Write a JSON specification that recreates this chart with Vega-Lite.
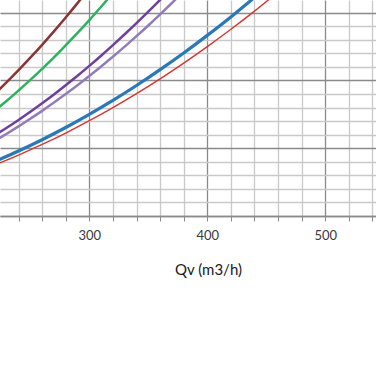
{
  "$schema": "https://vega.github.io/schema/vega-lite/v6.json",
  "width": 376,
  "height": 216,
  "autosize": {"type": "none"},
  "padding": {"left": 0, "top": 0, "right": 0, "bottom": 157},
  "background": "white",
  "config": {"view": {"stroke": null}, "font": "Lato"},
  "data": {"values": [
    {"curve": "A", "Qv": 220, "dp": 90.4}, {"curve": "A", "Qv": 230, "dp": 98.8}, {"curve": "A", "Qv": 240, "dp": 107.6}, {"curve": "A", "Qv": 250, "dp": 116.8}, {"curve": "A", "Qv": 260, "dp": 126.3}, {"curve": "A", "Qv": 270, "dp": 136.2}, {"curve": "A", "Qv": 280, "dp": 146.5}, {"curve": "A", "Qv": 290, "dp": 157.1}, {"curve": "A", "Qv": 300, "dp": 168.1},
    {"curve": "B", "Qv": 220, "dp": 77.8}, {"curve": "B", "Qv": 230, "dp": 85.0}, {"curve": "B", "Qv": 240, "dp": 92.6}, {"curve": "B", "Qv": 250, "dp": 100.4}, {"curve": "B", "Qv": 260, "dp": 108.6}, {"curve": "B", "Qv": 270, "dp": 117.1}, {"curve": "B", "Qv": 280, "dp": 126.0}, {"curve": "B", "Qv": 290, "dp": 135.1}, {"curve": "B", "Qv": 300, "dp": 144.6}, {"curve": "B", "Qv": 310, "dp": 154.4}, {"curve": "B", "Qv": 320, "dp": 164.6},
    {"curve": "C", "Qv": 220, "dp": 59.6}, {"curve": "C", "Qv": 230, "dp": 65.1}, {"curve": "C", "Qv": 240, "dp": 70.9}, {"curve": "C", "Qv": 250, "dp": 76.9}, {"curve": "C", "Qv": 260, "dp": 83.2}, {"curve": "C", "Qv": 270, "dp": 89.7}, {"curve": "C", "Qv": 280, "dp": 96.5}, {"curve": "C", "Qv": 290, "dp": 103.5}, {"curve": "C", "Qv": 300, "dp": 110.8}, {"curve": "C", "Qv": 310, "dp": 118.3}, {"curve": "C", "Qv": 320, "dp": 126.1}, {"curve": "C", "Qv": 330, "dp": 134.1}, {"curve": "C", "Qv": 340, "dp": 142.3}, {"curve": "C", "Qv": 350, "dp": 150.8}, {"curve": "C", "Qv": 360, "dp": 159.5}, {"curve": "C", "Qv": 370, "dp": 168.5},
    {"curve": "D", "Qv": 220, "dp": 55.6}, {"curve": "D", "Qv": 230, "dp": 60.7}, {"curve": "D", "Qv": 240, "dp": 66.1}, {"curve": "D", "Qv": 250, "dp": 71.8}, {"curve": "D", "Qv": 260, "dp": 77.6}, {"curve": "D", "Qv": 270, "dp": 83.7}, {"curve": "D", "Qv": 280, "dp": 90.0}, {"curve": "D", "Qv": 290, "dp": 96.5}, {"curve": "D", "Qv": 300, "dp": 103.3}, {"curve": "D", "Qv": 310, "dp": 110.3}, {"curve": "D", "Qv": 320, "dp": 117.6}, {"curve": "D", "Qv": 330, "dp": 125.0}, {"curve": "D", "Qv": 340, "dp": 132.7}, {"curve": "D", "Qv": 350, "dp": 140.6}, {"curve": "D", "Qv": 360, "dp": 148.8}, {"curve": "D", "Qv": 370, "dp": 157.2}, {"curve": "D", "Qv": 380, "dp": 165.8},
    {"curve": "E", "Qv": 220, "dp": 40.3}, {"curve": "E", "Qv": 240, "dp": 48.0}, {"curve": "E", "Qv": 260, "dp": 56.3}, {"curve": "E", "Qv": 280, "dp": 65.3}, {"curve": "E", "Qv": 300, "dp": 75.0}, {"curve": "E", "Qv": 320, "dp": 85.3}, {"curve": "E", "Qv": 340, "dp": 96.3}, {"curve": "E", "Qv": 360, "dp": 108.0}, {"curve": "E", "Qv": 380, "dp": 120.3}, {"curve": "E", "Qv": 400, "dp": 133.3}, {"curve": "E", "Qv": 420, "dp": 146.9}, {"curve": "E", "Qv": 440, "dp": 161.3},
    {"curve": "F", "Qv": 220, "dp": 37.8}, {"curve": "F", "Qv": 240, "dp": 45.0}, {"curve": "F", "Qv": 260, "dp": 52.8}, {"curve": "F", "Qv": 280, "dp": 61.2}, {"curve": "F", "Qv": 300, "dp": 70.3}, {"curve": "F", "Qv": 320, "dp": 80.0}, {"curve": "F", "Qv": 340, "dp": 90.3}, {"curve": "F", "Qv": 360, "dp": 101.2}, {"curve": "F", "Qv": 380, "dp": 112.8}, {"curve": "F", "Qv": 400, "dp": 125.0}, {"curve": "F", "Qv": 420, "dp": 137.8}, {"curve": "F", "Qv": 440, "dp": 151.2}, {"curve": "F", "Qv": 460, "dp": 165.3}
  ]},
  "mark": {"type": "line", "clip": true, "interpolate": "monotone"},
  "encoding": {
    "x": {
      "field": "Qv", "type": "quantitative",
      "scale": {"domain": [224.3, 543], "nice": false, "zero": false},
      "axis": {
        "values": [240, 260, 280, 300, 320, 340, 360, 380, 400, 420, 440, 460, 480, 500, 520, 540],
        "grid": true,
        "gridColor": {"condition": {"test": "datum.value % 100 === 0", "value": "#8a8a8a"}, "value": "#c9c9c9"},
        "gridWidth": 1.3,
        "domainColor": "#8a8a8a",
        "domainWidth": 1.3,
        "tickColor": "#8a8a8a",
        "tickSize": 5,
        "labelExpr": "datum.value % 100 === 0 ? datum.label : ''",
        "labelFontSize": 13,
        "labelColor": "#3a3a3a",
        "labelPadding": 8,
        "labelFont": "Lato",
        "title": "Qv (m3/h)",
        "titleFont": "Lato",
        "titleFontSize": 15,
        "titleFontWeight": "normal",
        "titleColor": "#1a1a1a",
        "titleX": 208,
        "titleY": 58,
        "titleBaseline": "alphabetic"
      }
    },
    "y": {
      "field": "dp", "type": "quantitative",
      "scale": {"domain": [0, 159.4], "nice": false},
      "axis": {
        "values": [0, 10, 20, 30, 40, 50, 60, 70, 80, 90, 100, 110, 120, 130, 140, 150],
        "grid": true,
        "gridColor": {"condition": {"test": "datum.value % 50 === 0", "value": "#8a8a8a"}, "value": "#c9c9c9"},
        "gridWidth": 1.3,
        "labels": false,
        "ticks": false,
        "domain": false,
        "title": null
      }
    },
    "color": {
      "field": "curve", "type": "nominal",
      "scale": {"domain": ["A", "B", "C", "D", "E", "F"], "range": ["#8b3434", "#2eb25c", "#6f3fa0", "#927cbc", "#2a78b8", "#d8352e"]},
      "legend": null
    },
    "strokeWidth": {
      "condition": [
        {"test": "datum.curve === 'E'", "value": 3.2},
        {"test": "datum.curve === 'F'", "value": 1.4}
      ],
      "value": 2.5
    }
  }
}
